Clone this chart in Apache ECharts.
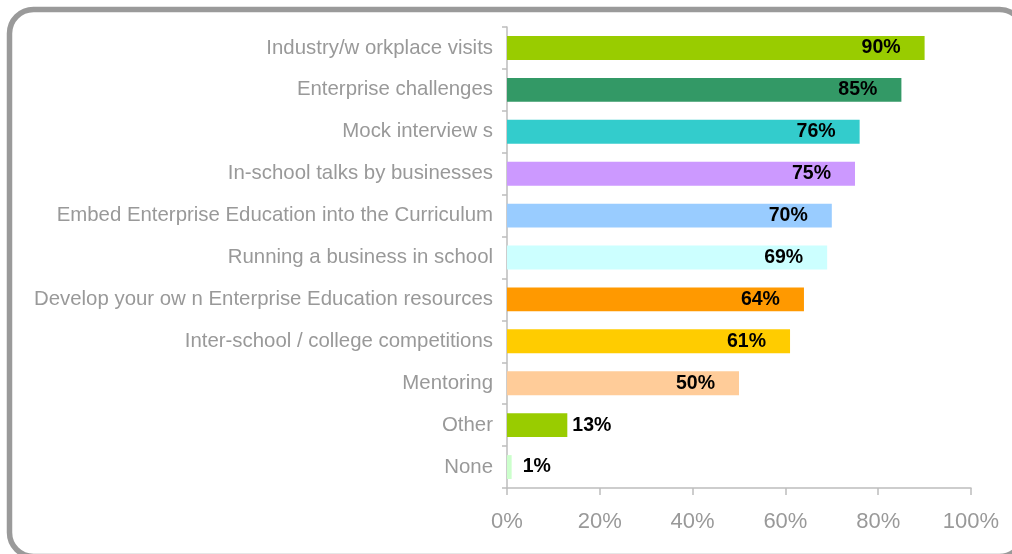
<!DOCTYPE html>
<html>
<head>
<meta charset="utf-8">
<script src="https://cdn.jsdelivr.net/npm/echarts@6/dist/echarts.min.js"></script>
<style>
  html, body { margin: 0; padding: 0; background: #fff; }
  #chart { width: 1012px; height: 554px; }
</style>
</head>
<body>
<div id="chart"></div>
<script>
// Activities offered, share of respondents (%)
const categories = [
  'Industry/w orkplace visits',
  'Enterprise challenges',
  'Mock interview s',
  'In-school talks by businesses',
  'Embed Enterprise Education into the Curriculum',
  'Running a business in school',
  'Develop your ow n Enterprise Education resources',
  'Inter-school / college competitions',
  'Mentoring',
  'Other',
  'None'
];
const values = [90, 85, 76, 75, 70, 69, 64, 61, 50, 13, 1];
const barColors = [
  '#99CC00', '#339966', '#33CCCC', '#CC99FF', '#99CCFF', '#CCFFFF',
  '#FF9900', '#FFCC00', '#FFCC99', '#99CC00', '#CCFFCC'
];
const xTicks = [0, 20, 40, 60, 80, 100];

const axisGrey = '#bdbdbd';
const textGrey = '#999999';

// Short bars carry their label outside the bar end
const outsideLimit = 20;

const seriesData = values.map((v, i) => {
  const item = { value: v, itemStyle: { color: barColors[i] } };
  if (v < outsideLimit) {
    item.label = { position: 'right', distance: v < 5 ? 11 : 5 };
  }
  return item;
});

const chart = echarts.init(document.getElementById('chart'), null, { renderer: 'canvas' });
chart.setOption({
  animation: false,
  backgroundColor: '#ffffff',
  grid: { left: 507, right: 41, top: 27, bottom: 66, containLabel: false },
  xAxis: {
    type: 'value',
    min: 0,
    max: 100,
    interval: 20,
    axisLine: { show: true, lineStyle: { color: axisGrey, width: 1.5 } },
    axisTick: { show: true, length: 7, lineStyle: { color: axisGrey, width: 1.5 } },
    splitLine: { show: false },
    axisLabel: {
      margin: 23,
      fontFamily: 'Liberation Sans, Arial, sans-serif',
      fontSize: 22,
      color: textGrey,
      formatter: v => (xTicks.indexOf(v) >= 0 ? v + '%' : '')
    }
  },
  yAxis: {
    type: 'category',
    data: categories,
    inverse: true,
    axisLine: { show: true, lineStyle: { color: axisGrey, width: 1.5 } },
    axisTick: { show: true, length: 5, lineStyle: { color: axisGrey, width: 1.5 } },
    axisLabel: {
      margin: 14,
      fontFamily: 'Liberation Sans, Arial, sans-serif',
      fontSize: 20.4,
      color: textGrey
    }
  },
  series: [{
    type: 'bar',
    data: seriesData,
    barCategoryGap: '43%',
    label: {
      show: true,
      position: 'insideRight',
      distance: 24,
      formatter: p => p.value + '%',
      fontFamily: 'Liberation Sans, Arial, sans-serif',
      fontWeight: 'bold',
      fontSize: 19.5,
      color: '#000'
    }
  }],
  graphic: [{
    type: 'rect',
    silent: true,
    z: 100,
    shape: { x: 9.5, y: 9.5, width: 1014, height: 547, r: 24 },
    style: { fill: 'none', stroke: '#9a9a9a', lineWidth: 5.5 }
  }]
});
</script>
</body>
</html>
